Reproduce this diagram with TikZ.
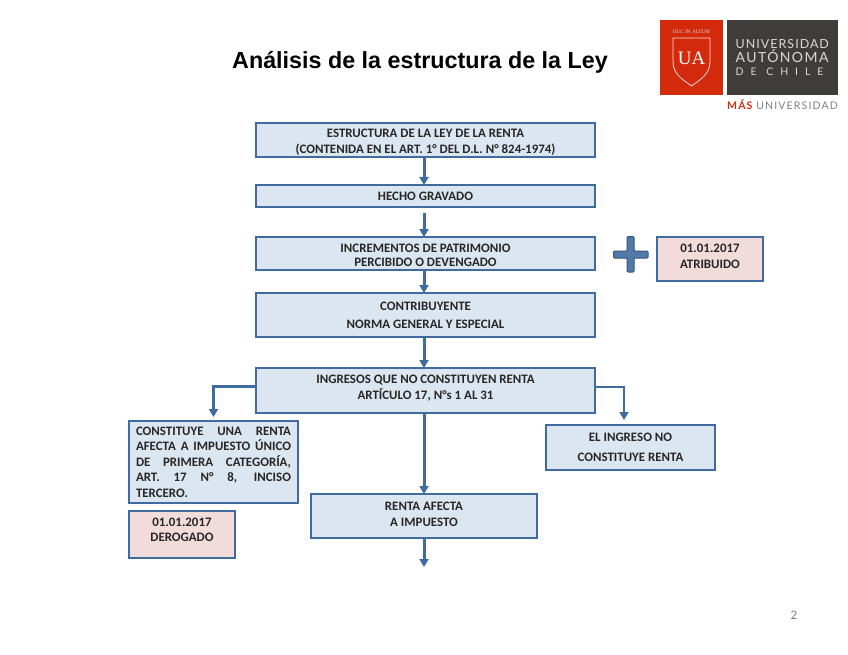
\documentclass[tikz,border=0pt]{standalone}
\usepackage{fontspec}
\setmainfont{Carlito}
\newfontfamily\titlefont{Liberation Sans}
\newfontfamily\logofont{Lato}
\usetikzlibrary{arrows.meta}
\definecolor{edge}{HTML}{3F6B9E}
\definecolor{paleblue}{HTML}{DCE6F1}
\definecolor{palerose}{HTML}{F2DCDB}
\definecolor{uared}{HTML}{D42A0C}
\definecolor{uadark}{HTML}{3F3D3A}
\definecolor{uagrey}{HTML}{7F7F7F}
\tikzset{
  box/.style={draw=edge,fill=paleblue,line width=2pt,outer sep=0pt,inner sep=0pt,align=center,text=black!85,
    font=\fontsize{12.9}{15.5}\selectfont\bfseries},
  datebox/.style={box,fill=palerose},
  link/.style={draw=edge,line width=3pt,-{Triangle[length=8pt,width=9pt]}},
  logotext/.style={text=white!85!black,inner sep=0pt,font=\logofont}
}

\begin{document}
\begin{tikzpicture}[x=1pt,y=-1pt]
  \useasboundingbox (0,0) rectangle (848,655);
  % title
  \node[font=\titlefont\bfseries\fontsize{23.3}{26}\selectfont] (title) at (420,62){Análisis de la estructura de la Ley};
  % main column
  \node[box,minimum width=339pt,minimum height=34pt] (estructura) at (425.5,140){\rule{0pt}{12pt}ESTRUCTURA DE LA LEY DE LA RENTA\\[0.5pt](CONTENIDA EN EL ART. 1° DEL D.L. N° 824-1974)};
  \node[box,minimum width=339pt,minimum height=22pt] (hecho) at (425.5,196){HECHO GRAVADO};
  \node[box,minimum width=339pt,minimum height=33pt] (incrementos) at (425.5,253.5){\rule{0pt}{11.5pt}INCREMENTOS DE PATRIMONIO\\[-1.5pt]PERCIBIDO O DEVENGADO};
  \node[box,minimum width=339pt,minimum height=44pt] (contribuyente) at (425.5,315){CONTRIBUYENTE\\[2.5pt]NORMA GENERAL Y ESPECIAL};
  \node[box,minimum width=339pt,minimum height=45pt] (ingresos) at (425.5,390.5){INGRESOS QUE NO CONSTITUYEN RENTA\\ARTÍCULO 17, N°s 1 AL 31\\[-9pt]\mbox{}};
  \node[box,minimum width=226pt,minimum height=44pt] (afecta) at (424,516){RENTA AFECTA\\A IMPUESTO\\[-12.5pt]\mbox{}};
  % side boxes
  \node[box,minimum width=169pt,minimum height=82pt,text width=155pt,align=justify] (unica) at (213.5,462){CONSTITUYE UNA RENTA\linebreak AFECTA A IMPUESTO ÚNICO\linebreak DE PRIMERA CATEGORÍA,\linebreak ART. 17 N° 8, INCISO\linebreak TERCERO.};
  \node[box,minimum width=169pt,minimum height=45pt] (noconst) at (630.5,447.5){EL INGRESO NO\\[4pt]CONSTITUYE RENTA};
  \node[datebox,minimum width=106pt,minimum height=47pt] (derogado) at (182,534.5){01.01.2017\\DEROGADO\\[-6.5pt]\mbox{}};
  \node[datebox,minimum width=106pt,minimum height=44pt] (atribuido) at (710,259){01.01.2017\\ATRIBUIDO\\[-10.5pt]\mbox{}};
  % plus sign
  \filldraw[fill=edge!90!white,draw=edge!80!black,line width=1pt,rounded corners=1pt] (613.5,251) -- (627,251) -- (627,236.5) -- (634,236.5) -- (634,251) -- (648,251) -- (648,258) -- (634,258) -- (634,272) -- (627,272) -- (627,258) -- (613.5,258) -- cycle;
  % arrows
  \coordinate (tail) at (424,567);
  \foreach \a/\b/\s in {estructura/hecho/0,hecho/incrementos/6,incrementos/contribuyente/0,contribuyente/ingresos/0}{
    \draw[link,shorten <=\s pt] ([xshift=-1.5pt]\a.south) -- ([xshift=-1.5pt]\b.north);
  }
  \draw[link] ([xshift=-1.5pt]ingresos.south) -- (afecta.north);
  \draw[link] (afecta.south) -- (tail);
  \draw[link,shorten >=4pt] ([yshift=4.5pt]ingresos.west) -| (unica.north);
  \draw[link,line width=2.4pt,shorten >=5pt] ([yshift=3.5pt]ingresos.east) -| ([xshift=-6.5pt]noconst.north);
  % logo
  \fill[uared] (660,20) rectangle (723,95);
  \fill[uadark] (727,20) rectangle (838,95);
  \draw[white!85!uared,line width=0.8pt] (673,38) -- (710,38) -- (710,62) .. controls (710,75) and (698,81) .. (691.5,86) .. controls (685,81) and (673,75) .. (673,62) -- cycle;
  \node[logotext,font=\fontspec{Liberation Serif}\fontsize{5.2}{6}\selectfont] (motto) at (691.5,32){DUC IN ALTUM};
  \node[logotext,text=white,font=\fontspec{Liberation Serif}\fontsize{19}{20}\selectfont] (ua) at (691.5,58){UA};
  \node[logotext,font=\logofont\fontsize{12.5}{13}\selectfont\addfontfeature{LetterSpace=8},anchor=base west] (uni) at (735.5,48.5){UNIVERSIDAD};
  \node[logotext,font=\logofont\fontsize{14}{15}\selectfont\addfontfeature{LetterSpace=10},anchor=base west] (aut) at (735.5,63){AUTÓNOMA};
  \node[logotext,font=\logofont\fontsize{10.5}{11}\selectfont\addfontfeature{LetterSpace=66},anchor=base west] (chile) at (735.5,76){DE CHILE};
  \node[anchor=base east,inner sep=0pt,text=uagrey,font=\logofont\fontsize{10.5}{11}\selectfont\addfontfeature{LetterSpace=11}] (mas) at (838,110){\textcolor{uared}{\bfseries MÁS} UNIVERSIDAD};
  % page number
  \node[text=uagrey,font=\fontsize{13}{14}\selectfont] (page) at (794,615){2};
\end{tikzpicture}
\end{document}
